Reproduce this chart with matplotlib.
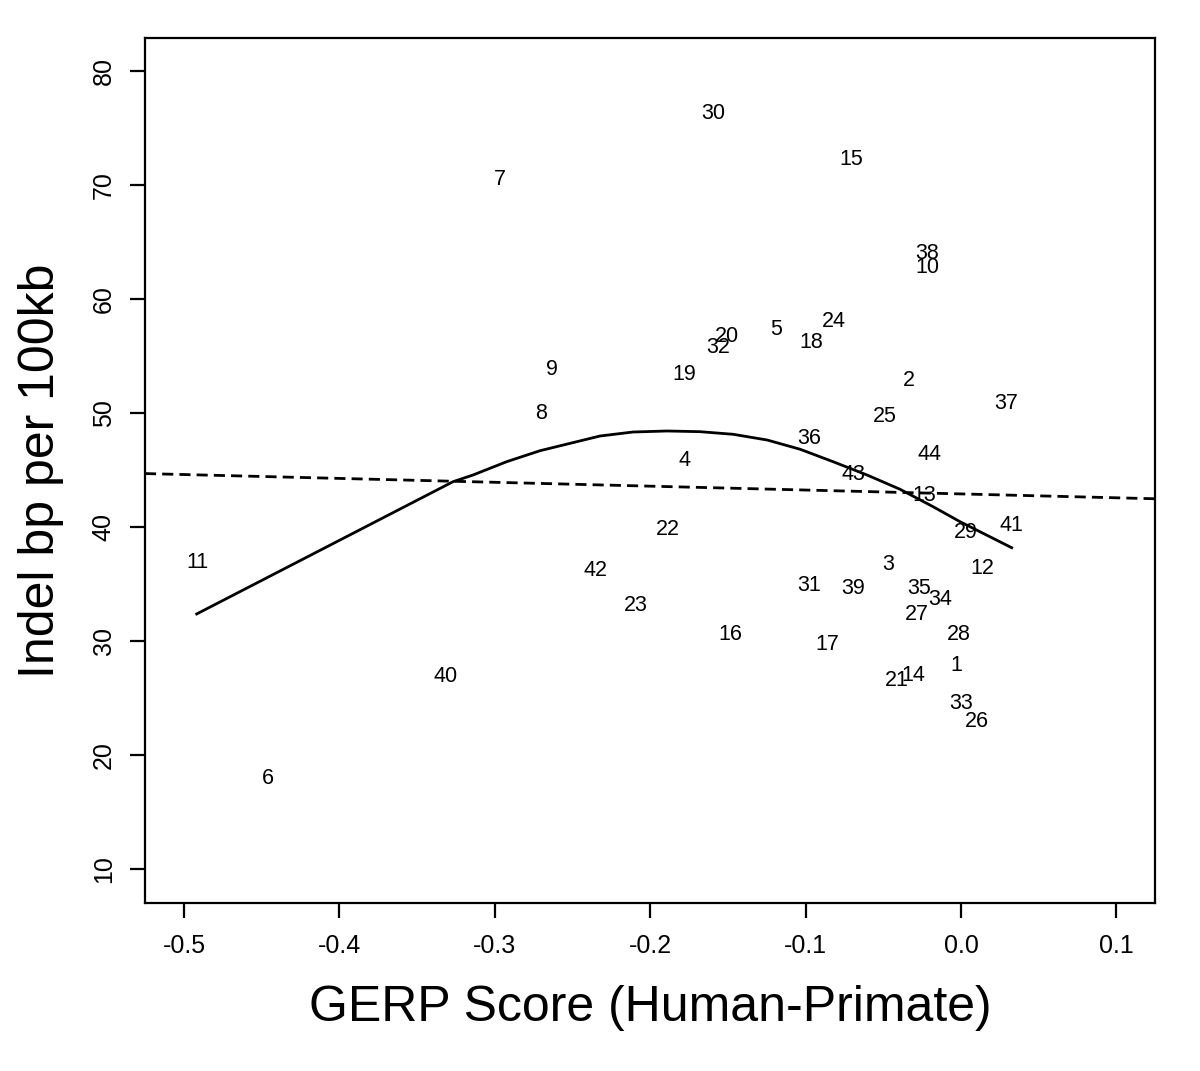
import matplotlib
matplotlib.use("Agg")
import matplotlib.pyplot as plt
import numpy as np

plt.rcParams['font.family'] = ['Liberation Sans', 'DejaVu Sans']

# Point labels (region ids) with GERP score (x) and indel bp per 100kb (y)
labels = [str(i) for i in range(1, 45)]
gerp = [-0.0032, -0.0335, -0.047, -0.178, -0.119, -0.446, -0.2967, -0.270, -0.263, -0.0219,
        -0.4916, 0.0135, -0.0238, -0.031, -0.0708, -0.1486, -0.0862, -0.0965, -0.178, -0.1506,
        -0.0412, -0.1885, -0.209, -0.0817, -0.0489, 0.0103, -0.0283, -0.0013, 0.0032, -0.1596,
        -0.0978, -0.1564, 0.0, -0.0135, -0.027, -0.0978, 0.029, -0.0219, -0.0695, -0.3314,
        0.0322, -0.2355, -0.0695, -0.0206]
indel = [28.07, 53.07, 36.93, 46.05, 57.54, 18.16, 70.70, 50.18, 54.04, 62.98,
         37.11, 36.58, 42.98, 27.2, 72.46, 30.8, 29.9, 56.4, 53.6, 56.93,
         26.75, 40.0, 33.33, 58.25, 49.91, 23.16, 32.54, 30.8, 39.74, 76.49,
         35.09, 55.96, 24.74, 33.86, 34.82, 47.98, 51.05, 64.21, 34.82, 27.11,
         40.35, 36.4, 44.82, 46.58]

# Smooth (loess-like) fit
smooth_x = [-0.4918, -0.3269, -0.3140, -0.2923, -0.2709, -0.2323, -0.2111, -0.1892, -0.1680,
            -0.1467, -0.1248, -0.1036, -0.0824, -0.0605, -0.0393, -0.0180, -0.0006, 0.0326]
smooth_y = [32.37, 43.97, 44.56, 45.73, 46.69, 47.98, 48.33, 48.42, 48.36,
            48.13, 47.63, 46.82, 45.73, 44.56, 43.31, 41.78, 40.46, 38.18]

# Linear regression line (abline)
lin_intercept = 42.9
lin_slope = -3.4

xticks = [-0.5, -0.4, -0.3, -0.2, -0.1, 0.0, 0.1]
xtick_labels = ['-0.5', '-0.4', '-0.3', '-0.2', '-0.1', '0.0', '0.1']
yticks = [10, 20, 30, 40, 50, 60, 70, 80]

fig = plt.figure(figsize=(12, 10.71), dpi=100)
ax = fig.add_axes([0.1208, 0.1569, 0.8417, 0.8076])

xlim = (-0.5251, 0.1248)
ylim = (7.02, 82.89)
ax.set_xlim(*xlim)
ax.set_ylim(*ylim)

for lab, x, y in zip(labels, gerp, indel):
    ax.text(x, y, lab, ha='center', va='center_baseline', fontsize=15.5, color='black')

ax.plot(smooth_x, smooth_y, color='black', lw=2.0, solid_joinstyle='round')
xs = np.array(xlim)
ax.plot(xs, lin_intercept + lin_slope * xs, color='black', lw=2.0, linestyle=(0, (4, 2.2)))

for s in ax.spines.values():
    s.set_linewidth(1.6)

ax.set_xticks(xticks)
ax.set_xticklabels(xtick_labels)
ax.set_yticks(yticks)
ax.set_yticklabels([str(v) for v in yticks], rotation=90, va='center')
ax.tick_params(axis='both', direction='out', length=11, width=1.6, labelsize=18, colors='black')
ax.tick_params(axis='x', pad=11)
ax.tick_params(axis='y', pad=10)

ax.set_xlabel('GERP Score (Human-Primate)', fontsize=36, labelpad=20)
ax.set_ylabel('Indel bp per 100kb', fontsize=36, labelpad=20)

fig.savefig('out.png', dpi=100, facecolor='white')
